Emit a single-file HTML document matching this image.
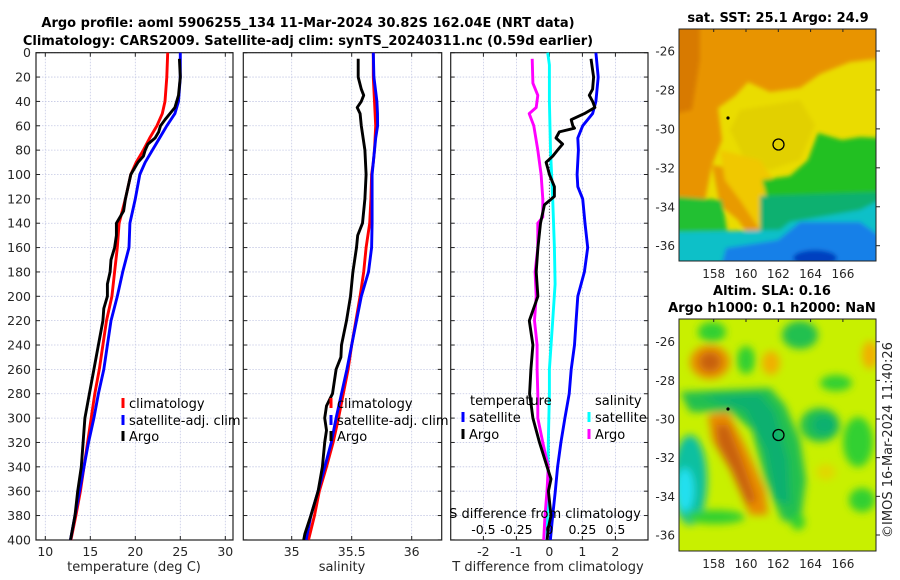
<!DOCTYPE html>
<html><head><meta charset="utf-8">
<style>
html,body{margin:0;padding:0;background:#fff;}
svg{display:block;font-family:"DejaVu Sans","Liberation Sans",sans-serif;}
</style></head>
<body>
<svg id="c" width="900" height="580" viewBox="0 0 900 580" xmlns="http://www.w3.org/2000/svg">
<defs>
<clipPath id="m1"><rect x="679" y="29" width="197" height="232"/></clipPath>
<clipPath id="m2"><rect x="679" y="319" width="197" height="232"/></clipPath>
<filter id="bl" x="-10%" y="-10%" width="120%" height="120%"><feGaussianBlur stdDeviation="2"/></filter>
<filter id="bl2" x="-20%" y="-20%" width="140%" height="140%"><feGaussianBlur stdDeviation="4"/></filter>
</defs>
<text x="308" y="27" text-anchor="middle" font-size="13" font-weight="bold" fill="#000">Argo profile: aoml 5906255_134 11-Mar-2024 30.82S 162.04E (NRT data)</text>
<text x="308" y="45" text-anchor="middle" font-size="13" font-weight="bold" fill="#000">Climatology: CARS2009. Satellite-adj clim: synTS_20240311.nc (0.59d earlier)</text>

<!-- Map 1 -->
<g>
<text x="778" y="22" text-anchor="middle" font-size="13" font-weight="bold">sat. SST: 25.1 Argo: 24.9</text>
<g clip-path="url(#m1)">
<rect x="679" y="29" width="197" height="232" fill="#eadc00"/>
<g filter="url(#bl)">
<polygon fill="#e89400" points="670,20 885,20 885,58 850,62 820,74 800,88 770,92 748,82 735,96 718,108 722,140 712,165 705,200 670,200"/>
<polygon fill="#e2d000" points="740,110 800,100 815,125 800,160 770,170 745,160 730,130"/>
<polygon fill="#d87a00" points="670,20 700,20 700,60 692,110 670,115"/>
<polygon fill="#e89a00" points="712,165 740,170 768,178 770,235 752,240 738,220 720,205"/>
<polygon fill="#f0c800" points="720,150 760,160 772,178 760,230 740,200 725,180"/>
<polygon fill="#20c020" points="762,180 790,176 808,160 818,133 842,140 860,137 880,138 880,205 850,212 820,217 790,212 768,203"/>
<polygon fill="#10b070" points="760,196 880,192 880,270 670,270 670,236 725,236 760,230"/>
<polygon fill="#20c030" points="670,196 722,200 728,236 670,238"/>
<polygon fill="#10c0c8" points="670,232 780,230 790,222 860,210 880,200 880,270 670,270"/>
<polygon fill="#1480e8" points="726,248 778,240 800,222 860,222 880,236 880,270 720,270"/>
<ellipse cx="815" cy="258" rx="22" ry="8" fill="#0040c0"/>
</g>
</g>
<rect x="679" y="29" width="197" height="232" fill="none" stroke="#222" stroke-width="1"/>
<circle cx="778.5" cy="144.5" r="5.5" fill="none" stroke="#000" stroke-width="1.3"/>
<circle cx="728" cy="118" r="1.6" fill="#000"/>
<g id="map1ax" font-size="12" fill="#262626"></g>
</g>

<!-- Map 2 -->
<g>
<text x="772" y="295" text-anchor="middle" font-size="13" font-weight="bold">Altim. SLA: 0.16</text>
<text x="772" y="312" text-anchor="middle" font-size="13" font-weight="bold">Argo h1000: 0.1 h2000: NaN</text>
<g clip-path="url(#m2)">
<rect x="679" y="319" width="197" height="232" fill="#c8f000"/>
<g filter="url(#bl2)">
<ellipse cx="712" cy="332" rx="14" ry="10" fill="#30d030"/>
<ellipse cx="800" cy="335" rx="18" ry="14" fill="#20c050"/>
<ellipse cx="746" cy="360" rx="9" ry="14" fill="#30d030"/>
<ellipse cx="836" cy="383" rx="16" ry="8" fill="#30d030"/>
<polygon fill="#20c050" points="680,392 770,388 785,405 800,440 806,480 800,525 782,520 765,480 752,430 730,412 690,412"/>
<polygon fill="#10b070" points="700,396 760,394 775,412 788,460 790,505 775,500 765,450 745,410"/>
<ellipse cx="690" cy="480" rx="17" ry="45" fill="#10c0a0"/>
<ellipse cx="685" cy="490" rx="9" ry="22" fill="#20e0f0"/>
<ellipse cx="820" cy="425" rx="20" ry="17" fill="#20c050"/>
<ellipse cx="824" cy="425" rx="12" ry="10" fill="#10b070"/>
<ellipse cx="858" cy="442" rx="15" ry="25" fill="#30d030"/>
<ellipse cx="862" cy="500" rx="13" ry="12" fill="#30d030"/>
<ellipse cx="798" cy="522" rx="7" ry="8" fill="#30d030"/>
<ellipse cx="715" cy="517" rx="30" ry="7" fill="#30d030"/>
<ellipse cx="710" cy="362" rx="20" ry="17" fill="#e89000"/>
<ellipse cx="710" cy="362" rx="11" ry="10" fill="#c86010"/>
<polygon fill="#e88a00" points="708,415 728,412 745,445 765,490 768,515 750,515 730,470 712,440"/>
<polygon fill="#c86010" points="716,425 728,425 742,460 756,500 748,505 732,470 718,445"/>
<ellipse cx="771" cy="363" rx="9" ry="12" fill="#f0b000"/>
<ellipse cx="870" cy="355" rx="8" ry="14" fill="#f0b000"/>
<ellipse cx="826" cy="472" rx="10" ry="8" fill="#e0d800"/>
</g>
</g>
<rect x="679" y="319" width="197" height="232" fill="none" stroke="#222" stroke-width="1"/>
<circle cx="778.5" cy="435" r="5.5" fill="none" stroke="#000" stroke-width="1.3"/>
<circle cx="728" cy="409" r="1.6" fill="#000"/>
<g id="map2ax" font-size="12" fill="#262626"></g>
<text transform="translate(892,440) rotate(-90)" text-anchor="middle" font-size="13" fill="#262626">©IMOS 16-Mar-2024 11:40:26</text>
</g>

<g id="plots"></g>
</svg>
<script>
// ---------- data ----------
const climDepths = [0,20,40,50,60,70,80,90,100,120,140,160,180,200,220,240,260,280,300,320,340,360,380,400];
const tempClim = [23.6,23.5,23.3,23.0,22.4,21.6,20.9,20.1,19.5,18.9,18.2,18.0,17.7,17.4,16.8,16.4,16.0,15.5,15.1,14.7,14.3,13.9,13.4,12.85];
const tempSat = [25.0,25.0,24.8,24.4,23.5,22.7,21.9,21.1,20.5,20.0,19.4,19.3,18.6,18.0,17.3,16.9,16.5,15.9,15.4,14.8,14.3,13.8,13.3,12.8];
const argoTDepths = [5,20,35,45,55,60,65,70,75,80,85,90,95,100,110,120,130,140,150,160,170,180,190,200,210,220,240,260,280,300,320,340,360,380,400];
const tempArgo = [24.9,25.0,24.8,24.4,23.3,22.8,22.6,22.2,21.4,21.1,20.9,20.3,19.9,19.5,19.2,18.9,18.7,17.9,17.9,17.7,17.3,17.2,16.9,16.9,16.5,16.4,15.9,15.4,14.9,14.4,14.2,14.0,13.6,13.3,12.8];
const salClim = [35.68,35.68,35.69,35.695,35.70,35.695,35.69,35.68,35.666,35.66,35.65,35.62,35.60,35.57,35.535,35.50,35.47,35.43,35.39,35.345,35.29,35.23,35.19,35.14];
const salSat = [35.68,35.685,35.71,35.715,35.716,35.70,35.69,35.68,35.67,35.67,35.67,35.666,35.64,35.58,35.54,35.50,35.46,35.415,35.37,35.33,35.276,35.22,35.16,35.12];
const argoSDepths = [5,20,30,35,40,45,50,60,80,100,120,140,150,160,180,200,220,240,250,260,280,290,300,310,320,340,360,380,395,400];
const salArgo = [35.554,35.554,35.58,35.60,35.58,35.546,35.57,35.58,35.61,35.62,35.61,35.59,35.55,35.54,35.51,35.49,35.457,35.415,35.41,35.37,35.34,35.29,35.275,35.29,35.275,35.256,35.22,35.16,35.11,35.10];
const tSatDepths = [0,20,40,50,60,70,80,100,110,120,140,160,180,200,220,240,260,280,300,320,340,360,380,400];
const tDiffSat = [1.41,1.48,1.41,1.31,1.01,0.86,0.88,0.84,0.86,1.01,1.08,1.16,1.06,0.86,0.81,0.76,0.66,0.60,0.47,0.35,0.25,0.18,0.10,0.03];
const tArgoDepths = [5,20,30,35,40,45,50,55,60,62,65,70,75,80,85,90,95,100,110,118,125,140,160,180,200,220,240,260,280,290,300,320,340,350,360,380,390,400];
const tDiffArgo = [1.26,1.34,1.31,1.21,1.31,1.38,1.06,0.66,0.71,0.76,0.30,0.20,0.40,0.25,0.10,-0.10,-0.05,0,0.15,0.15,-0.15,-0.27,-0.35,-0.40,-0.35,-0.61,-0.50,-0.56,-0.60,-0.55,-0.50,-0.30,-0.07,0.05,-0.03,0.05,-0.03,-0.07];
const sArgoDepths = [5,25,35,45,50,60,80,100,120,135,140,160,180,200,220,240,260,280,300,320,340,360,380,400];
const sDiffArgo = [-0.13,-0.125,-0.088,-0.1,-0.153,-0.118,-0.088,-0.063,-0.05,-0.05,-0.088,-0.088,-0.108,-0.1,-0.113,-0.093,-0.093,-0.088,-0.088,-0.05,-0.008,-0.018,-0.033,-0.043];
const sSatDepths = [0,10,40,80,120,160,190,220,260,280,320,360,400];
const sDiffSat = [-0.013,0,0,0.008,0.025,0.038,0.043,0.025,0,0,-0.008,-0.013,-0.018];
const depthTicks = [0,20,40,60,80,100,120,140,160,180,200,220,240,260,280,300,320,340,360,380,400];
const tempTicks = [10,15,20,25,30];
const salTicks = [35,35.5,36];
const tDiffTicks = [-2,-1,0,1,2];
const sDiffTicks = [-0.5,-0.25,0,0.25,0.5];
const sDiffTickLabels = ["-0.5","-0.25","0","0.25","0.5"];
const latTicks = [-26,-28,-30,-32,-34,-36];
const lonTicks = [158,160,162,164,166];

// ---------- axes ----------
const NS = "http://www.w3.org/2000/svg";
const yD = d => 52.7 + d * 1.218;
const xT = t => 45.3 + (t - 10) * 9.0;
const xS = s => 291.7 + (s - 35) * 120;
const xTD = v => 549.4 + v * 33;
const xSD = v => 549.4 + v * 132;
const yLat1 = l => 51 + (-26 - l) * 19.47;
const yLat2 = l => 341.7 + (-26 - l) * 19.33;
const xLon = l => 778.3 + (l - 162) * 16.15;
const TOP = 52.7, BOT = 540;
const root = document.getElementById('plots');

function mk(tag, attrs, parent) {
  const e = document.createElementNS(NS, tag);
  for (const k in attrs) e.setAttribute(k, attrs[k]);
  (parent || root).appendChild(e);
  return e;
}
function line(xs, ys, color, name, parent) {
  const pts = xs.map((x, i) => x.toFixed(1) + ',' + ys[i].toFixed(1)).join(' ');
  const p = mk('polyline', {points: pts, fill: 'none', stroke: color, 'stroke-width': 2.9, 'stroke-linejoin': 'round'}, parent);
  
  
  return p;
}
function panel(x0, x1, name, xticks, xfn, xlabels, xtitle, xtitleX, showY) {
  const g = mk('g', {});
  
  
  depthTicks.forEach(d => {
    mk('line', {x1: x0, x2: x1, y1: yD(d), y2: yD(d), stroke: '#c4c8e4', 'stroke-width': 0.8, 'stroke-dasharray': '1.5,1.5'}, g);
    mk('line', {x1: x0, x2: x0 + 4, y1: yD(d), y2: yD(d), stroke: '#222', 'stroke-width': 1}, g);
    mk('line', {x1: x1 - 4, x2: x1, y1: yD(d), y2: yD(d), stroke: '#222', 'stroke-width': 1}, g);
    if (showY) {
      const t = mk('text', {x: x0 - 5, y: yD(d) + 4.5, 'text-anchor': 'end', 'font-size': 12.5, fill: '#262626'}, g);
      t.textContent = d;
      
      
    }
  });
  xticks.forEach((v, i) => {
    const x = xfn(v);
    mk('line', {x1: x, x2: x, y1: TOP, y2: BOT, stroke: '#c4c8e4', 'stroke-width': 0.8, 'stroke-dasharray': '1.5,1.5'}, g);
    mk('line', {x1: x, x2: x, y1: BOT - 4, y2: BOT, stroke: '#222', 'stroke-width': 1}, g);
    mk('line', {x1: x, x2: x, y1: TOP, y2: TOP + 4, stroke: '#222', 'stroke-width': 1}, g);
    const t = mk('text', {x: x, y: 556, 'text-anchor': 'middle', 'font-size': 12.5, fill: '#262626'}, g);
    t.textContent = xlabels[i];
    
    
  });
  mk('rect', {x: x0, y: TOP, width: x1 - x0, height: BOT - TOP, fill: 'none', stroke: '#222', 'stroke-width': 1.2}, g);
  const tt = mk('text', {x: xtitleX, y: 571, 'text-anchor': 'middle', 'font-size': 13, fill: '#262626'}, g);
  tt.textContent = xtitle;
  
  
  return g;
}
function legendEntry(g, x, y, color, label) {
  const e = mk('g', {}, g);
  
  
  mk('line', {x1: x, x2: x, y1: y - 10, y2: y, stroke: color, 'stroke-width': 3}, e);
  const t = mk('text', {x: x + 6, y: y, 'font-size': 13, fill: '#000'}, e);
  t.textContent = label;
}

// Panel 1: temperature
const p1 = panel(36, 233, 'temperature-panel', tempTicks, xT, tempTicks.map(String), 'temperature (deg C)', 134, true);
line(tempClim.map(xT), climDepths.map(yD), '#ff0000', 'climatology-temp-line', p1);
line(tempSat.map(xT), climDepths.map(yD), '#0000ff', 'satellite-temp-line', p1);
line(tempArgo.map(xT), argoTDepths.map(yD), '#000000', 'argo-temp-line', p1);
const l1 = mk('g', {}, p1);


legendEntry(l1, 123, 408, '#ff0000', 'climatology');
legendEntry(l1, 123, 425, '#0000ff', 'satellite-adj. clim');
legendEntry(l1, 123, 441, '#000000', 'Argo');

// Panel 2: salinity
const p2 = panel(243.3, 441.7, 'salinity-panel', salTicks, xS, ['35', '35.5', '36'], 'salinity', 342, false);
line(salClim.map(xS), climDepths.map(yD), '#ff0000', 'climatology-sal-line', p2);
line(salSat.map(xS), climDepths.map(yD), '#0000ff', 'satellite-sal-line', p2);
line(salArgo.map(xS), argoSDepths.map(yD), '#000000', 'argo-sal-line', p2);
const l2 = mk('g', {}, p2);


legendEntry(l2, 331, 408, '#ff0000', 'climatology');
legendEntry(l2, 331, 425, '#0000ff', 'satellite-adj. clim');
legendEntry(l2, 331, 441, '#000000', 'Argo');

// Panel 3: differences
const p3 = panel(450.7, 648, 'difference-panel', tDiffTicks, xTD, tDiffTicks.map(String), 'T difference from climatology', 548, false);
const zl = mk('line', {x1: xTD(0), x2: xTD(0), y1: TOP, y2: BOT, stroke: '#333', 'stroke-width': 1, 'stroke-dasharray': '1,2'}, p3);


line(sDiffSat.map(xSD), sSatDepths.map(yD), '#00ffff', 'sal-diff-satellite-line', p3);
line(sDiffArgo.map(xSD), sArgoDepths.map(yD), '#ff00ff', 'sal-diff-argo-line', p3);
line(tDiffSat.map(xTD), tSatDepths.map(yD), '#0000ff', 'temp-diff-satellite-line', p3);
line(tDiffArgo.map(xTD), tArgoDepths.map(yD), '#000000', 'temp-diff-argo-line', p3);
const sAx = mk('g', {}, p3);


const sTitle = mk('text', {x: 545, y: 518, 'text-anchor': 'middle', 'font-size': 13, fill: '#000'}, sAx);
sTitle.textContent = 'S difference from climatology';
sDiffTicks.forEach((v, i) => {
  const t = mk('text', {x: xSD(v), y: 534, 'text-anchor': 'middle', 'font-size': 12.5, fill: '#000'}, sAx);
  t.textContent = sDiffTickLabels[i];
});
const l3 = mk('g', {}, p3);


const lt1 = mk('text', {x: 470, y: 405, 'font-size': 13, fill: '#000'}, l3);
lt1.textContent = 'temperature';
const lt2 = mk('text', {x: 595, y: 405, 'font-size': 13, fill: '#000'}, l3);
lt2.textContent = 'salinity';
legendEntry(l3, 463, 422, '#0000ff', 'satellite');
legendEntry(l3, 463, 439, '#000000', 'Argo');
legendEntry(l3, 589, 422, '#00ffff', 'satellite');
legendEntry(l3, 589, 439, '#ff00ff', 'Argo');

// Map axes
function mapAxes(gid, yLat, top, bot) {
  const g = document.getElementById(gid);
  latTicks.forEach(l => {
    const y = yLat(l);
    mk('line', {x1: 876, x2: 880, y1: y, y2: y, stroke: '#222'}, g);
    const t = mk('text', {x: 675, y: y + 4.5, 'text-anchor': 'end'}, g);
    t.textContent = String(l);
    
    
  });
  lonTicks.forEach(l => {
    const x = xLon(l);
    mk('line', {x1: x, x2: x, y1: top, y2: top + 3, stroke: '#222'}, g);
    const t = mk('text', {x: x, y: bot + 17, 'text-anchor': 'middle'}, g);
    t.textContent = String(l);
    
    
  });
}
mapAxes('map1ax', yLat1, 29, 261);
mapAxes('map2ax', yLat2, 319, 551);
</script>
</body></html>
